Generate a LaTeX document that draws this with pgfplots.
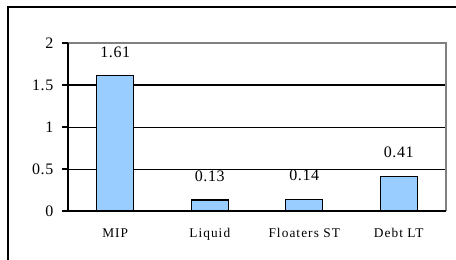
\documentclass[border=0pt]{standalone}
\usepackage{pgfplots}
\pgfplotsset{compat=1.18}
\usepackage{fontspec}
\setmainfont{Liberation Serif}
\newfontfamily\xlabfont[LetterSpace=8]{Liberation Serif}
\newfontfamily\numfont[LetterSpace=4]{Liberation Serif}
\definecolor{barblue}{RGB}{153,204,255}
\definecolor{bordergray}{RGB}{128,128,128}
\begin{document}
\begin{tikzpicture}
\clip (0,0) rectangle (342pt,195pt);
\draw[line width=1.6pt] (5.8pt,-20pt) rectangle (380pt,189.9pt);
\begin{axis}[
  at={(51pt,36.75pt)}, anchor=south west,
  scale only axis, width=283.5pt, height=126pt,
  xmin=-0.5, xmax=3.5, ymin=0, ymax=2,
  axis line style={draw=none},
  ytick={0,0.5,1,1.5,2},
  yticklabels={0,0.5,1,1.5,2},
  ytick pos=left, xtick pos=bottom,
  tick align=outside,
  major tick length=4.5pt,
  y tick style={black, line width=1.2pt},
  ymajorgrids, grid style={black, line width=0.75pt},
  xtick={0,1,2,3},
  xticklabels={MIP,Liquid,Floaters ST,Debt LT},
  x tick style={draw=none},
  extra x ticks={-0.5,0.5,1.5,2.5,3.5},
  extra x tick labels={},
  extra x tick style={grid=none, tick style={draw=black, line width=1.2pt}, major tick length=4pt},
  y tick label style={font=\numfont\fontsize{12}{13}\selectfont, xshift=-3pt},
  x tick label style={font=\xlabfont\fontsize{10}{11}\selectfont, yshift=-5pt},
  nodes near coords,
  point meta=explicit symbolic,
  every node near coord/.append style={font=\numfont\fontsize{12}{13}\selectfont, anchor=south, yshift=10pt},
  clip=false,
]
\addplot[ybar, bar width=27.75pt, fill=barblue, draw=black, line width=0.9pt]
  coordinates {(0,1.61)[1.61] (1,0.13)[0.13] (2,0.14)[0.14] (3,0.41)[0.41]};
\draw[bordergray, line width=1.5pt] (rel axis cs:0,1) -- (rel axis cs:1,1) -- (rel axis cs:1,0);
\draw[black, line width=1.5pt] (rel axis cs:0,1) -- (rel axis cs:0,0) -- (rel axis cs:1,0);
\end{axis}
\end{tikzpicture}
\end{document}
